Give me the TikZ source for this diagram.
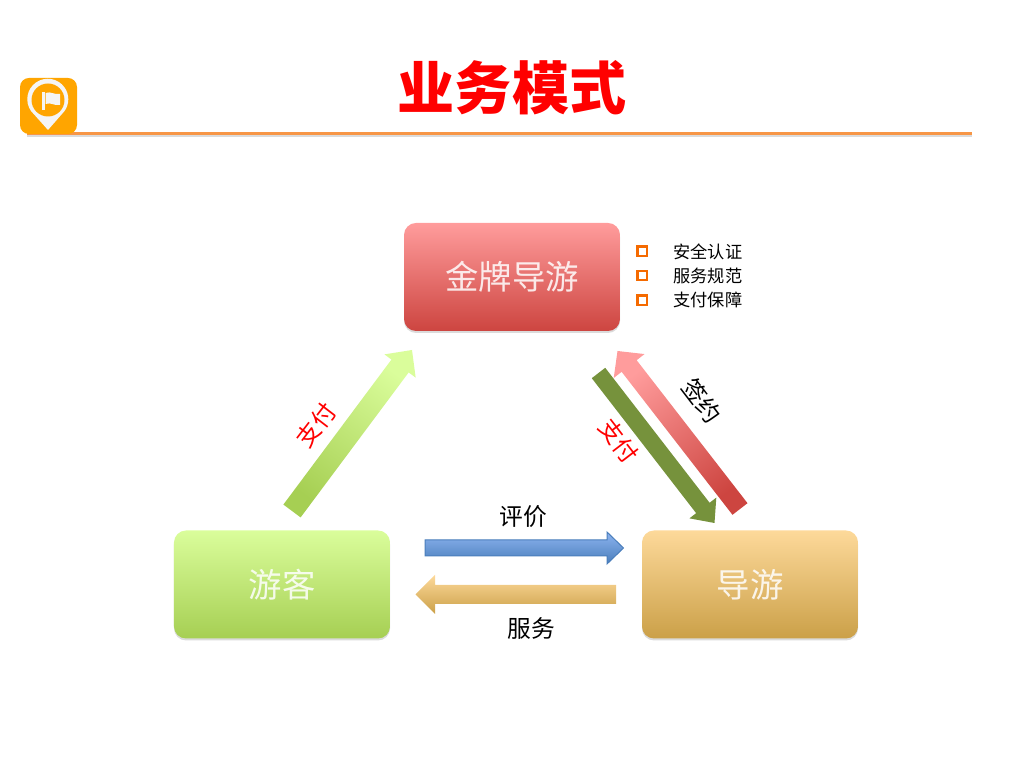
\documentclass[tikz,border=0pt]{standalone}
\usepackage{fontspec}
\setmainfont{Noto Sans CJK SC}
\usetikzlibrary{calc,shadows}
\newcommand{\blockarrow}[6]{% start, tip, half shaft, half head, head length, style
  \coordinate (hb) at ($(#2)!#5!(#1)$);
  \path[#6] ($(#1)!#3!90:(#2)$) -- ($(hb)!#3!90:(#2)$) -- ($(hb)!#4!90:(#2)$) -- (#2)
    -- ($(hb)!#4!-90:(#2)$) -- ($(hb)!#3!-90:(#2)$) -- ($(#1)!#3!-90:(#2)$) -- cycle;
}
\begin{document}
\begin{tikzpicture}[x=0.2mm,y=-0.2mm]
\tikzset{softshadow/.style = {drop shadow={shadow xshift=0pt,shadow yshift=-0.4mm,opacity=0.2,fill=black!70}}}
\tikzset{box/.style = {minimum width=43.2mm,minimum height=21.6mm,rounded corners=2.4mm,softshadow,text=white,text opacity=0.85,font=\fontsize{19}{19}\selectfont,inner sep=0pt}}
\tikzset{redbox/.style = {box,top color=red1,bottom color=red2}}
\tikzset{greenbox/.style = {box,top color=green1,bottom color=green2}}
\tikzset{tanbox/.style = {box,top color=tan1,bottom color=tan2}}
\tikzset{bullet/.style = {draw=bulletorange,line width=0.45mm,minimum size=1.9mm,inner sep=0pt}}
\tikzset{item/.style = {anchor=west,inner sep=0pt,font=\fontsize{9.8}{9.8}\selectfont}}
\tikzset{label/.style = {inner sep=0pt,font=\fontsize{13.5}{13.5}\selectfont}}
\definecolor{red1}{HTML}{FF9C9C}
\definecolor{red2}{HTML}{CD4540}
\definecolor{green1}{HTML}{DAFD9B}
\definecolor{green2}{HTML}{A6CF53}
\definecolor{tan1}{HTML}{FDD99A}
\definecolor{tan2}{HTML}{CBA048}
\definecolor{blue1}{HTML}{8DB4F0}
\definecolor{blue2}{HTML}{4A7EBB}
\definecolor{olive1}{HTML}{76923C}
\definecolor{bulletorange}{HTML}{F56A00}
\definecolor{lineorange}{HTML}{F79646}
\definecolor{iconorange}{HTML}{FFA500}
\useasboundingbox (0,0) rectangle (1024,768);
\node[inner sep=0pt,text=red,font=\bfseries\fontsize{32.5}{32.5}\selectfont] (title) at (512,87.5) {业务模式};
\coordinate (ruleA) at (27,133.5);
\coordinate (ruleB) at (972,133.5);
\draw[lineorange,line width=0.65mm,preaction={draw=black!14,line width=0.65mm,transform canvas={yshift=-0.4mm}}] (ruleA) -- (ruleB);
\fill[iconorange,rounded corners=1.8mm] (20,78) rectangle (77,134);
\fill[white!96!black] (48,130) -- (31,111) arc (145:395:20.5) -- cycle;
\fill[iconorange] (48,100) circle (16.5);
\fill[white!96!black] (42,92) rectangle (44.5,110);
\fill[white!96!black] (45.5,93) .. controls (51,91) and (54,95) .. (60,94) -- (60,105) .. controls (54,106) and (51,102) .. (45.5,104) -- cycle;
\node[redbox] (jinpai) at (512,277) {金牌导游};
\node[greenbox] (youke) at (282,584.5) {游客};
\node[tanbox] (daoyou) at (750,584.5) {导游};
\node[bullet] (b1) at (642.3,251.3) {};
\node[bullet] (b2) at (642.3,275.5) {};
\node[bullet] (b3) at (642.3,300.3) {};
\node[item] (i1) at (673,252) {安全认证};
\node[item] (i2) at (673,276) {服务规范};
\node[item] (i3) at (673,300) {支付保障};
\coordinate (ykA) at (292,511);
\coordinate (jpA) at (412,350);
\coordinate (dyA) at (740,509);
\coordinate (jpB) at (617.5,351);
\coordinate (jpC) at (598.5,373);
\coordinate (dyB) at (714.5,523);
\coordinate (ykB) at (425,548);
\coordinate (dyC) at (623.5,548);
\coordinate (dyD) at (616,594.5);
\coordinate (ykC) at (415.5,594.5);
\blockarrow{ykA}{jpA}{2.15mm}{3.9mm}{4mm}{top color=green1,bottom color=green2,shading angle=-37}
\blockarrow{dyA}{jpB}{1.9mm}{3.9mm}{3.8mm}{top color=red1,bottom color=red2,shading angle=37}
\blockarrow{jpC}{dyB}{1.7mm}{3.4mm}{3.8mm}{fill=olive1}
\blockarrow{ykB}{dyC}{1.6mm}{3.2mm}{3.3mm}{top color=blue1,bottom color=blue2,draw=blue2,line width=0.2mm}
\blockarrow{dyD}{ykC}{1.9mm}{3.9mm}{3.9mm}{top color=tan1,bottom color=tan2}
\node[label] (pj) at (523.5,517) {评价};
\node[label] (fw) at (531,628) {服务};
\node[label,text=red,rotate=52.5] (zf1) at (316,425) {支付};
\node[label,text=red,rotate=-52.5] (zf2) at (619,441) {支付};
\node[label,rotate=-52.5] (qy) at (702,401) {签约};
\end{tikzpicture}
\end{document}
